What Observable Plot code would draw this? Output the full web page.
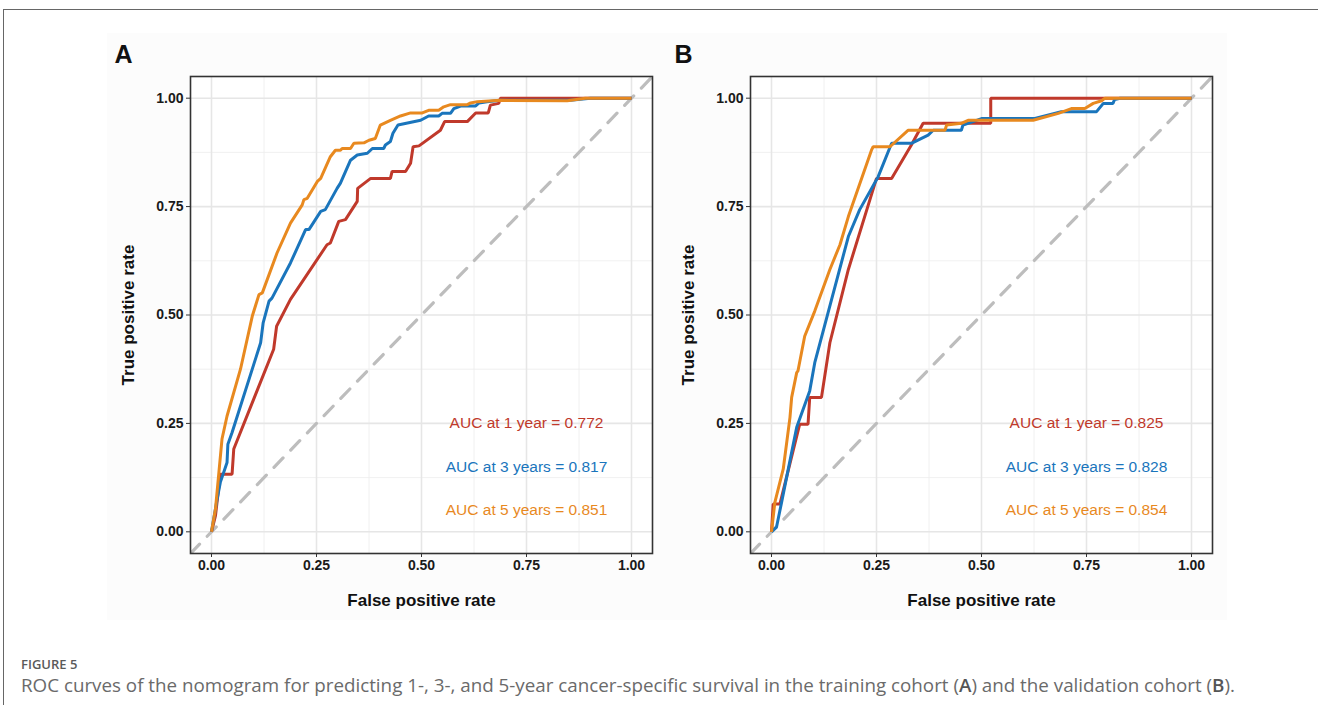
<!DOCTYPE html>
<html>
<head>
<meta charset="utf-8">
<script src="https://cdn.jsdelivr.net/npm/d3@7"></script>
<script src="https://cdn.jsdelivr.net/npm/@observablehq/plot@0.6"></script>
<style>
  html, body { margin: 0; padding: 0; background: #ffffff; }
  #page { position: relative; width: 1318px; height: 705px; overflow: hidden; font-family: "Liberation Sans", Arial, sans-serif; }
  #borderTop { position: absolute; left: 4px; top: 9px; width: 1314px; height: 0; border-top: 1.5px solid #666; }
  #borderLeft { position: absolute; left: 3px; top: 9px; width: 0; height: 700px; border-left: 1.5px solid #666; }
  #bgPanel { position: absolute; left: 107px; top: 33px; width: 1120px; height: 587px; background: #fcfcfc; }
  .panel { position: absolute; top: 30px; }
  #panelA { left: 100px; }
  #panelB { left: 660px; }
  #figLabel { position: absolute; left: 21px; top: 655px; font-family: "Open Sans", "Noto Sans", sans-serif; font-size: 13px; font-weight: 600; color: #5a5a5a; }
  #caption { position: absolute; left: 21px; top: 672px; font-family: "Open Sans", "Noto Sans", sans-serif; font-size: 18.8px; color: #6a6a6a; white-space: nowrap; }
</style>
</head>
<body>
<div id="page">
  <div id="borderTop"></div>
  <div id="borderLeft"></div>
  <div id="bgPanel"></div>
  <div id="panelA" class="panel"></div>
  <div id="panelB" class="panel"></div>
  <div id="figLabel">FIGURE 5</div>
  <div id="caption">ROC curves of the nomogram for predicting 1-, 3-, and 5-year cancer-specific survival in the training cohort (<b style="font-weight:600;color:#555">A</b>) and the validation cohort (<b style="font-weight:600;color:#555">B</b>).</div>
</div>
<script>
// ---------- DATA ----------
const seriesNames = ["1 year", "3 years", "5 years"];
const seriesColors = ["#c0392b", "#1a75bc", "#e8891f"];
const majorTicks = [0, 0.25, 0.5, 0.75, 1];
const minorTicks = [0.125, 0.375, 0.625, 0.875];
const aucTrain = [0.772, 0.817, 0.851];
const aucValid = [0.825, 0.828, 0.854];
const aucLabelY = [0.25, 0.15, 0.05];
const aucLabelX = 0.75;

// Training cohort (A): [false positive rate, true positive rate]
const trainY1 = [[0,0],[0.0095,0.0375],[0.021,0.133],[0.049,0.133],[0.053,0.191],[0.148,0.421],[0.155,0.474],[0.188,0.536],[0.275,0.662],[0.283,0.666],[0.303,0.716],[0.319,0.720],[0.347,0.762],[0.348,0.792],[0.379,0.815],[0.426,0.815],[0.430,0.831],[0.462,0.831],[0.474,0.850],[0.480,0.888],[0.494,0.890],[0.545,0.926],[0.555,0.946],[0.609,0.946],[0.629,0.966],[0.659,0.966],[0.664,0.984],[0.684,0.988],[0.688,1],[1,1]];
const trainY3 = [[0,0],[0.0135,0.076],[0.021,0.114],[0.037,0.160],[0.039,0.202],[0.049,0.229],[0.117,0.436],[0.123,0.482],[0.137,0.532],[0.144,0.539],[0.188,0.620],[0.224,0.697],[0.232,0.697],[0.260,0.739],[0.271,0.743],[0.299,0.792],[0.307,0.804],[0.331,0.857],[0.347,0.869],[0.371,0.873],[0.383,0.884],[0.410,0.884],[0.414,0.892],[0.426,0.900],[0.432,0.919],[0.444,0.938],[0.498,0.949],[0.517,0.959],[0.541,0.959],[0.549,0.965],[0.569,0.965],[0.577,0.976],[0.593,0.982],[0.629,0.982],[0.637,0.989],[0.656,0.992],[0.688,0.995],[0.855,0.995],[0.902,1],[1,1]];
const trainY5 = [[0,0],[0.0095,0.053],[0.025,0.214],[0.037,0.267],[0.069,0.375],[0.097,0.497],[0.113,0.547],[0.121,0.551],[0.156,0.643],[0.188,0.712],[0.216,0.754],[0.220,0.766],[0.228,0.769],[0.252,0.808],[0.260,0.815],[0.283,0.865],[0.295,0.880],[0.307,0.880],[0.311,0.884],[0.331,0.884],[0.339,0.896],[0.363,0.897],[0.375,0.903],[0.390,0.907],[0.402,0.938],[0.426,0.949],[0.450,0.959],[0.474,0.966],[0.502,0.966],[0.517,0.972],[0.541,0.972],[0.553,0.980],[0.569,0.985],[0.609,0.985],[0.617,0.989],[0.633,0.992],[0.688,0.995],[0.847,0.994],[0.890,1],[1,1]];

// Validation cohort (B)
const validY1 = [[0,0],[0.004,0.064],[0.020,0.064],[0.067,0.248],[0.087,0.248],[0.091,0.310],[0.119,0.310],[0.139,0.436],[0.183,0.605],[0.250,0.815],[0.286,0.815],[0.333,0.892],[0.361,0.942],[0.522,0.942],[0.522,1],[1,1]];
const validY3 = [[0,0],[0.012,0.011],[0.024,0.068],[0.060,0.241],[0.091,0.325],[0.103,0.390],[0.183,0.681],[0.210,0.743],[0.254,0.819],[0.286,0.896],[0.333,0.896],[0.373,0.915],[0.385,0.926],[0.452,0.926],[0.456,0.938],[0.500,0.953],[0.627,0.953],[0.690,0.969],[0.774,0.969],[0.790,0.988],[0.813,0.988],[0.817,0.997],[0.83,1],[1,1]];
const validY5 = [[0,0],[0.008,0.068],[0.028,0.145],[0.044,0.264],[0.048,0.310],[0.060,0.367],[0.063,0.371],[0.079,0.451],[0.103,0.509],[0.139,0.605],[0.163,0.662],[0.183,0.727],[0.238,0.880],[0.242,0.888],[0.282,0.888],[0.325,0.926],[0.413,0.926],[0.417,0.938],[0.452,0.942],[0.468,0.949],[0.623,0.949],[0.683,0.965],[0.714,0.976],[0.746,0.976],[0.766,0.988],[0.786,0.994],[0.794,1],[1,1]];

// ---------- CHART ----------
function toRows(curves) {
  const rows = [];
  curves.forEach((pts, i) => pts.forEach(([f, t]) => rows.push({fpr: f, tpr: t, series: seriesNames[i]})));
  return rows;
}

function panel(letter, curves, aucs) {
  const rows = toRows(curves);
  const labels = aucs.map((a, i) => ({
    series: seriesNames[i],
    x: aucLabelX,
    y: aucLabelY[i],
    text: `AUC at ${seriesNames[i]} = ${a.toFixed(3)}`
  }));
  const diag = [[-0.05, -0.05], [1.05, 1.05]];
  const fmt = d3.format(".2f");
  return Plot.plot({
    width: 560,
    height: 590,
    marginLeft: 90,
    marginRight: 8,
    marginTop: 46,
    marginBottom: 67,
    style: {fontFamily: "'Liberation Sans', Arial, sans-serif", background: "transparent", overflow: "visible"},
    x: {domain: [-0.05, 1.05]},
    y: {domain: [-0.05, 1.05]},
    color: {domain: seriesNames, range: seriesColors},
    marks: [
      Plot.frame({fill: "#ffffff", stroke: "none"}),
      Plot.gridX(minorTicks, {stroke: "#ececec", strokeOpacity: 1, strokeWidth: 0.8}),
      Plot.gridY(minorTicks, {stroke: "#ececec", strokeOpacity: 1, strokeWidth: 0.8}),
      Plot.gridX(majorTicks, {stroke: "#e6e6e6", strokeOpacity: 1, strokeWidth: 1.6}),
      Plot.gridY(majorTicks, {stroke: "#e6e6e6", strokeOpacity: 1, strokeWidth: 1.6}),
      Plot.line(diag, {x: d => d[0], y: d => d[1], stroke: "#bdbdbd", strokeWidth: 3.2, strokeDasharray: "13,11", clip: "frame"}),
      Plot.line(rows, {x: "fpr", y: "tpr", z: "series", stroke: "series", strokeWidth: 3, strokeLinejoin: "miter", strokeLinecap: "butt"}),
      Plot.text(labels, {x: "x", y: "y", text: "text", fill: "series", fontSize: 15.5, textAnchor: "middle"}),
      Plot.frame({stroke: "#333333", strokeWidth: 1.6}),
      Plot.axisX(majorTicks, {tickFormat: fmt, tickSize: 4, tickPadding: 3, stroke: "#333", fontSize: 14, fontWeight: "bold", fill: "#1a1a1a", label: null}),
      Plot.axisY(majorTicks, {tickFormat: fmt, tickSize: 4, tickPadding: 3, stroke: "#333", fontSize: 14, fontWeight: "bold", fill: "#1a1a1a", label: null}),
      Plot.text(["False positive rate"], {text: d => d, frameAnchor: "bottom", dy: 47, fontSize: 17, fontWeight: "bold", fill: "#111", lineAnchor: "middle"}),
      Plot.text(["True positive rate"], {text: d => d, frameAnchor: "left", dx: -62, rotate: -90, fontSize: 17, fontWeight: "bold", fill: "#111", textAnchor: "middle", lineAnchor: "middle"}),
      Plot.text([letter], {text: d => d, frameAnchor: "top-left", dx: -67, dy: -22, fontSize: 25, fontWeight: "bold", fill: "#111", textAnchor: "middle", lineAnchor: "middle"})
    ]
  });
}

document.getElementById("panelA").appendChild(panel("A", [trainY1, trainY3, trainY5], aucTrain));
document.getElementById("panelB").appendChild(panel("B", [validY1, validY3, validY5], aucValid));
</script>
</body>
</html>
